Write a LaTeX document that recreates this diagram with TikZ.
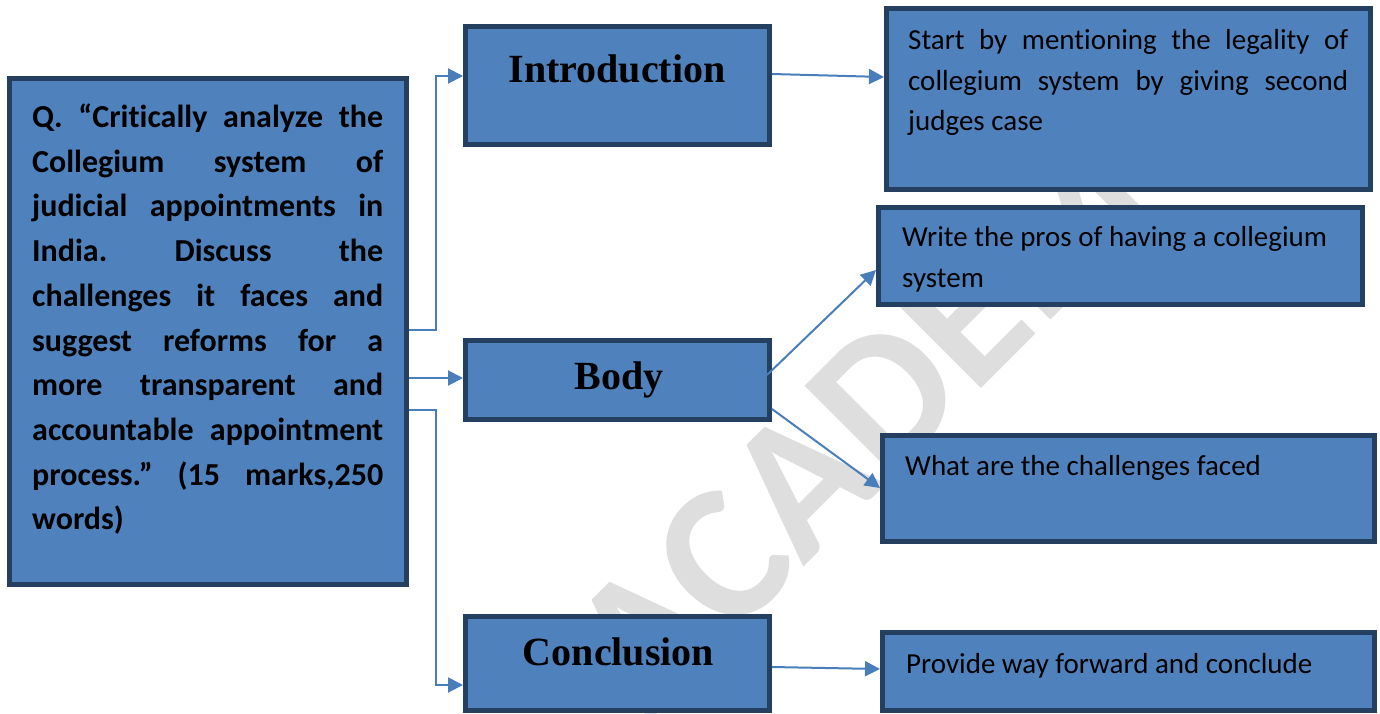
\documentclass[tikz,border=0pt]{standalone}
\usepackage{fontspec}
\setmainfont{Carlito}[Ligatures={NoCommon}]
\newfontfamily\headfont{Liberation Serif}
\usetikzlibrary{arrows.meta,calc}
\definecolor{boxfill}{HTML}{4F81BD}
\definecolor{boxline}{HTML}{243F60}
\definecolor{linkblue}{HTML}{4A7EBB}
\definecolor{wmgray}{HTML}{DEDEDE}
% a fully justified line: width, text
\newcommand{\jline}[2]{\makebox[#1][s]{\spaceskip=0pt\xspaceskip=0pt #2}}

\begin{document}
\frenchspacing
\begin{tikzpicture}[x=1pt,y=-1pt,
  box/.style={draw=boxline, fill=boxfill, line width=5pt, inner sep=0pt, rectangle},
  head/.style={font=\headfont\bfseries\fontsize{40}{40}\selectfont, anchor=base, inner sep=0pt},
  note/.style={font=\fontsize{29}{41}\selectfont, anchor=base west, inner sep=0pt,
               text width=460pt, align=justify},
  conn/.style={draw=linkblue, line width=2pt, -{Triangle[length=15pt,width=15pt]}}
]
\useasboundingbox (0,0) rectangle (1380,713);
\clip (0,0) rectangle (1380,713);

% watermark behind everything
\node[rotate=45, text=wmgray, inner sep=0pt,
      font=\bfseries\fontsize{195}{195}\selectfont] (wmark) at (896,385) {ACADEMY};

% question box
\node[box, minimum width=397pt, minimum height=506.5pt] (q) at (208,331.25) {};
\node[font=\bfseries\fontsize{32}{44.7}\selectfont, anchor=base west, inner sep=0pt,
      text width=351pt, align=justify] (qtext) at (32,127.5)
  {\jline{351pt}{Q. “Critically analyze the}\\
   \jline{351pt}{Collegium system of}\\
   \jline{351pt}{judicial appointments in}\\
   \jline{351pt}{India. Discuss the}\\
   \jline{351pt}{challenges it faces and}\\
   \jline{351pt}{suggest reforms for a}\\
   \jline{351pt}{more transparent and}\\
   \jline{351pt}{accountable appointment}\\
   \jline{351pt}{process.” (15 marks,250}\\
   words)};

% section boxes
\node[box, minimum width=304pt, minimum height=118pt] (intro) at (617.5,85.5) {};
\node[head] (introlbl) at (617,82) {Introduction};
\node[box, minimum width=304pt, minimum height=79pt] (body) at (617.5,380) {};
\node[head] (bodylbl) at (619,389) {Body};
\node[box, minimum width=304pt, minimum height=94pt] (concl) at (617.5,663.5) {};
\node[head] (concllbl) at (618.5,665) {Conclusion};

% hint boxes
\node[box, minimum width=484pt, minimum height=181pt] (start) at (1128.5,99) {};
\node[note, text width=440pt, font=\fontsize{29}{40.5}\selectfont] (starttext) at (908,49.5)
  {\jline{440pt}{Start by mentioning the legality of}\\
   \jline{440pt}{collegium system by giving second}\\
   judges case};
\node[box, minimum width=484pt, minimum height=97pt] (pros) at (1120.5,256) {};
\node[note] (prostext) at (902,246) {Write the pros of having a collegium\\system};
\node[box, minimum width=492pt, minimum height=106pt] (chal) at (1128.5,488.5) {};
\node[note] (chaltext) at (905,475) {What are the challenges faced};
\node[box, minimum width=492pt, minimum height=78pt] (prov) at (1128.5,671.5) {};
\node[note] (provtext) at (906,673) {Provide way forward and conclude};

% connectors
\draw[conn] (q.east |- 0,330) -- ++(27,0) |- (intro.west |- 0,76);
\draw[conn] (q.east |- 0,378) -- (body.west |- 0,378);
\draw[conn] (q.east |- 0,410) -- ++(27,0) |- (concl.west |- 0,685);
\draw[conn] (intro.east |- 0,74) -- (start.west |- 0,77);
\draw[conn] ($(body.east |- 0,375)+(-5,0)$) -- (pros.west |- 0,270);
\draw[conn] (body.east |- 0,409) -- (chal.west |- 0,488);
\draw[conn] (concl.east |- 0,667) -- (prov.west |- 0,669);
\end{tikzpicture}
\end{document}
